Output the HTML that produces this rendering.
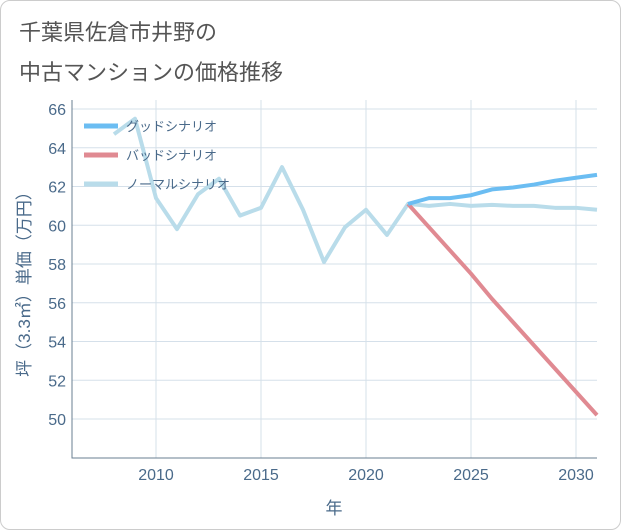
<!DOCTYPE html>
<html><head><meta charset="utf-8"><style>
body{margin:0;background:#fff;font-family:"Liberation Sans","Noto Sans CJK JP",sans-serif;}
#wrap{position:relative;width:619px;height:528px;border:1px solid #ccc;border-radius:10px;overflow:hidden;}
.title{position:absolute;left:18px;font-size:22px;color:#555;}
</style></head><body>
<div id="wrap">
<div class="title" style="top:14px">千葉県佐倉市井野の</div>
<div class="title" style="top:54px">中古マンションの価格推移</div>
<svg id="chart" width="621" height="530" style="position:absolute;left:-1px;top:-1px"></svg>
</div>
<script>
const years=[2008,2009,2010,2011,2012,2013,2014,2015,2016,2017,2018,2019,2020,2021,2022,2023,2024,2025,2026,2027,2028,2029,2030,2031];
const normal=[64.7,65.5,61.4,59.8,61.6,62.4,60.5,60.9,63.0,60.8,58.1,59.9,60.8,59.5,61.1,61.0,61.1,61.0,61.05,61.0,61.0,60.9,60.9,60.8];
const fYears=[2022,2023,2024,2025,2026,2027,2028,2029,2030,2031];
const good=[61.1,61.4,61.4,61.55,61.85,61.95,62.1,62.3,62.45,62.6];
const bad=[61.1,59.9,58.7,57.5,56.2,55.0,53.8,52.6,51.4,50.2];
const yTicks=[50,52,54,56,58,60,62,64,66];
const xTicks=[2010,2015,2020,2025,2030];
const L=72,R=597,T=100,B=458;
const x=v=>L+(v-2006)*(R-L)/25;
const y=v=>419-(v-50)*(419-109)/16;
const svg=document.getElementById('chart');
const NS='http://www.w3.org/2000/svg';
function mk(t,a,txt){const e=document.createElementNS(NS,t);for(const k in a)e.setAttribute(k,a[k]);if(txt!==undefined)e.textContent=txt;svg.appendChild(e);return e;}
for(const v of yTicks){
const g=mk('line',{x1:L,x2:R,y1:y(v),y2:y(v),stroke:'#d5e0ea','stroke-width':1});


const t=mk('text',{x:L-6,y:y(v)+6,'text-anchor':'end','font-size':16,fill:'#4a6a8a'},v);


}
for(const v of xTicks){
const g=mk('line',{x1:x(v),x2:x(v),y1:T,y2:B,stroke:'#d5e0ea','stroke-width':1});


const t=mk('text',{x:x(v),y:B+22,'text-anchor':'middle','font-size':16,fill:'#4a6a8a'},v);


}
const ax=mk('path',{d:`M${L} ${T}V${B}H${R}`,fill:'none',stroke:'#6a7f92','stroke-width':1});


function line(xs,vs,col,name){
const p=mk('polyline',{points:xs.map((v,i)=>x(v)+','+y(vs[i])).join(' '),fill:'none',stroke:col,'stroke-width':4,'stroke-linejoin':'round'});


}
line(years,normal,'#b9dcea','normal-scenario-line');
line(fYears,bad,'#e08a92','bad-scenario-line');
line(fYears,good,'#6bbdf2','good-scenario-line');
const leg=[['グッドシナリオ','#6bbdf2'],['バッドシナリオ','#e08a92'],['ノーマルシナリオ','#b9dcea']];
leg.forEach((l,i)=>{
const yy=126+i*29;
const s=mk('line',{x1:84,x2:118,y1:yy,y2:yy,stroke:l[1],'stroke-width':5});


const t=mk('text',{x:126,y:yy+5,'font-size':13,fill:'#4a6a8a'},l[0]);


});
const yt=mk('text',{x:30,y:280,'text-anchor':'middle','font-size':17,fill:'#4a6a8a',transform:'rotate(-90 30 280)'},'坪（3.3㎡）単価（万円）');


const xt=mk('text',{x:334,y:514,'text-anchor':'middle','font-size':17,fill:'#4a6a8a'},'年');


</script>
</body></html>
